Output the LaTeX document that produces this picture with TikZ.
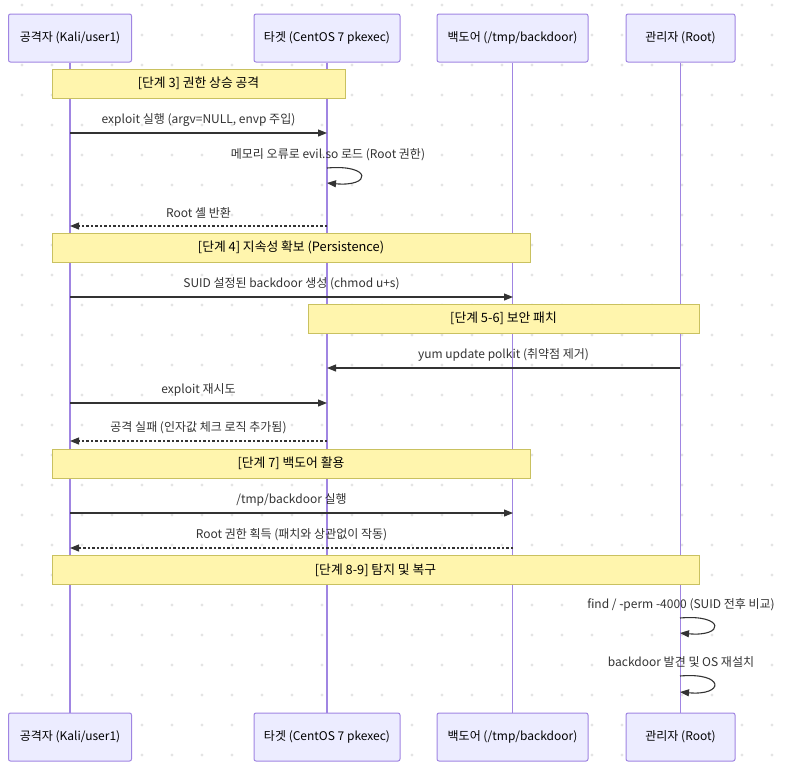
\documentclass[tikz,border=0pt]{standalone}
\usepackage{fontspec}
\setmainfont{Noto Sans CJK KR}
\usetikzlibrary{arrows.meta,positioning,calc}
\definecolor{actorfill}{HTML}{ECECFF}
\definecolor{actorline}{HTML}{A085E2}
\definecolor{notefill}{HTML}{FFF5AD}
\definecolor{noteline}{HTML}{C9C160}
\definecolor{msgline}{HTML}{333333}
\definecolor{griddot}{HTML}{E4E4E4}
\tikzset{
  actor/.style={draw=actorline, fill=actorfill, line width=1pt, rounded corners=2pt,
    minimum height=48pt, inner sep=0pt, font=\fontsize{12}{14}\selectfont},
  lifeline/.style={actorline, line width=1.4pt},
  notebox/.style={draw=noteline, fill=notefill, line width=1pt, minimum height=29pt,
    inner sep=0pt, font=\fontsize{12.8}{14}\selectfont},
  msg/.style={msgline, line width=1.1pt, -{Triangle[length=9pt,width=7pt]}},
  reply/.style={msg, dash pattern=on 2.5pt off 2pt},
  lbl/.style={inner sep=0pt, text=msgline, font=\fontsize{12}{14}\selectfont}
}
\begin{document}
\begin{tikzpicture}[x=1pt, y=-1pt]
  \useasboundingbox (0,0) rectangle (786,772);
  % dotted background
  \foreach \x in {22,52,...,772}
    \foreach \y in {5,35,...,765}
      \fill[griddot] (\x,\y) circle (1.6pt);

  % participants
  \node[actor, minimum width=123pt] (att)  at (70,38)    {공격자 (Kali/user1)};
  \node[actor, minimum width=146pt] (tgt)  at (327,38)   {타겟 (CentOS 7 pkexec)};
  \node[actor, minimum width=151pt] (bd)   at (512.5,38) {백도어 (/tmp/backdoor)};
  \node[actor, minimum width=109pt] (adm)  at (680.5,38) {관리자 (Root)};
  \node[actor, minimum width=123pt] (attB) at (70,737)    {공격자 (Kali/user1)};
  \node[actor, minimum width=146pt] (tgtB) at (327,737)   {타겟 (CentOS 7 pkexec)};
  \node[actor, minimum width=151pt] (bdB)  at (512.5,737) {백도어 (/tmp/backdoor)};
  \node[actor, minimum width=109pt] (admB) at (680.5,737) {관리자 (Root)};

  % lifelines
  \draw[lifeline] (att.south) -- (attB.north);
  \draw[lifeline] (tgt.south) -- (tgtB.north);
  \draw[lifeline] (bd.south |- tgt.south) -- (bdB.north -| bd.south);
  \draw[lifeline] (adm.south) -- (admB.north);

  % notes
  \node[notebox, minimum width=293pt] (n3)  at (198.5,83.5) {[단계 3] 권한 상승 공격};
  \node[notebox, minimum width=478pt] (n4)  at (291,247.5)  {[단계 4] 지속성 확보 (Persistence)};
  \node[notebox, minimum width=391pt] (n56) at (503.5,318.5) {[단계 5-6] 보안 패치};
  \node[notebox, minimum width=478pt] (n7)  at (291,463.5)  {[단계 7] 백도어 활용};
  \node[notebox, minimum width=647pt] (n89) at (375.5,570)  {[단계 8-9] 탐지 및 복구};

  % message end points
  \coordinate (a1) at (70,133);  \coordinate (t1) at (327,133);
  \coordinate (t2a) at (327,168); \coordinate (t2b) at (327,183);
  \coordinate (t3) at (327,226); \coordinate (a3) at (70,226);
  \coordinate (a4) at (70,297);  \coordinate (b4) at (513,297);
  \coordinate (m5) at (680,368); \coordinate (t5) at (327,368);
  \coordinate (a6) at (70,403);  \coordinate (t6) at (327,403);
  \coordinate (t7) at (327,441); \coordinate (a7) at (70,441);
  \coordinate (a8) at (70,513);  \coordinate (b8) at (513,513);
  \coordinate (b9) at (513,548); \coordinate (a9) at (70,548);
  \coordinate (m10a) at (680,618); \coordinate (m10b) at (680,633);
  \coordinate (m11a) at (680,676); \coordinate (m11b) at (680,692);

  % messages
  \draw[msg] (a1) -- (t1) node[lbl, midway, yshift=13pt] (l1) {exploit 실행 (argv=NULL, envp 주입)};
  \draw[msg] (t2a) .. controls (372,164) and (372,187) .. (t2b);
  \node[lbl] (l2) at (328,155) {메모리 오류로 evil.so 로드 (Root 권한)};
  \draw[reply] (t3) -- (a3) node[lbl, midway, yshift=13pt] (l3) {Root 셸 반환};
  \draw[msg] (a4) -- (b4) node[lbl, midway, yshift=13pt] (l4) {SUID 설정된 backdoor 생성 (chmod u+s)};
  \draw[msg] (m5) -- (t5) node[lbl, midway, yshift=13pt] (l5) {yum update polkit (취약점 제거)};
  \draw[msg] (a6) -- (t6) node[lbl, midway, yshift=13pt] (l6) {exploit 재시도};
  \draw[reply] (t7) -- (a7) node[lbl, midway, yshift=13pt] (l7) {공격 실패 (인자값 체크 로직 추가됨)};
  \draw[msg] (a8) -- (b8) node[lbl, midway, yshift=13pt] (l8) {/tmp/backdoor 실행};
  \draw[reply] (b9) -- (a9) node[lbl, midway, yshift=13pt] (l9) {Root 권한 획득 (패치와 상관없이 작동)};
  \draw[msg] (m10a) .. controls (725,614) and (725,637) .. (m10b);
  \node[lbl] (l10) at (681,605) {find / -perm -4000 (SUID 전후 비교)};
  \draw[msg] (m11a) .. controls (725,672) and (725,696) .. (m11b);
  \node[lbl] (l11) at (681,662) {backdoor 발견 및 OS 재설치};
\end{tikzpicture}
\end{document}
